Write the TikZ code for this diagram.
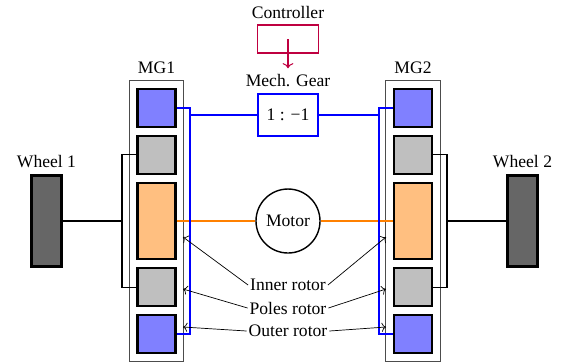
\documentclass[tikz,border=0pt]{standalone}
\usepackage{fontspec}
\setmainfont{Liberation Serif}
\usetikzlibrary{positioning, fit, arrows.meta}
\tikzset{
  rotor/.style={draw, very thick, minimum width=0.76cm, minimum height=0.76cm, inner sep=0pt},
  wheel/.style={draw, very thick, fill=black!60, minimum width=0.6cm, minimum height=1.82cm},
  housing/.style={draw=black!70, semithick, inner sep=0.14cm},
  bline/.style={blue, line width=1pt},
  oline/.style={orange, line width=1pt},
  shaft/.style={line width=1pt},
  pointer/.style={->, thin},
}

\begin{document}
\begin{tikzpicture}[x=0.2mm, y=-0.2mm, node distance=0.14cm]
  \useasboundingbox (0,0) rectangle (564,362);

  % MG1
  \node[rotor, fill=orange!50, minimum height=1.52cm] (s1) at (156.5,221) {};
  \node[rotor, fill=black!25, above=of s1] (p1a) {};
  \node[rotor, fill=blue!50, above=of p1a] (r1a) {};
  \node[rotor, fill=black!25, below=of s1] (p1b) {};
  \node[rotor, fill=blue!50, below=of p1b] (r1b) {};
  \node[housing, fit=(r1a)(r1b)] (mg1) {};
  \node[above=0pt of mg1] (mg1lbl) {MG1};

  % MG2
  \node[rotor, fill=orange!50, minimum height=1.52cm] (s2) at (413,221) {};
  \node[rotor, fill=black!25, above=of s2] (p2a) {};
  \node[rotor, fill=blue!50, above=of p2a] (r2a) {};
  \node[rotor, fill=black!25, below=of s2] (p2b) {};
  \node[rotor, fill=blue!50, below=of p2b] (r2b) {};
  \node[housing, fit=(r2a)(r2b)] (mg2) {};
  \node[above=0pt of mg2] (mg2lbl) {MG2};

  % wheels
  \node[wheel] (w1) at (46.5,221) {};
  \node[above=0pt of w1] (w1lbl) {Wheel 1};
  \node[wheel] (w2) at (522.5,221) {};
  \node[above=0pt of w2] (w2lbl) {Wheel 2};

  % gear and controller
  \node[draw=blue, line width=1pt, minimum width=1.2cm, minimum height=0.84cm] (gear) at (288,115) {1 : −1};
  \node[above=0pt of gear] (gearlbl) {Mech. Gear};
  \node[draw=purple, semithick, minimum width=1.22cm, minimum height=0.56cm] (ctrl) at (288,39) {};
  \node[above=0pt of ctrl] (ctrllbl) {Controller};
  \draw[purple, semithick, ->] (ctrl.center) -- (gearlbl.north);

  % motor
  \node[draw, thick, circle, minimum size=1.28cm, inner sep=0pt] (motor) at (288,221) {Motor};
  \draw[oline] (s1) -- (motor) -- (s2);

  % poles rotors to wheels
  \coordinate (j1) at (122,221);
  \coordinate (j2) at (447,221);
  \draw[semithick] (p1a.west) -| (j1) |- (p1b.west);
  \draw[semithick] (p2a.east) -| (j2) |- (p2b.east);
  \draw[shaft] (w1) -- (j1);
  \draw[shaft] (w2) -- (j2);

  % outer rotors through the gear
  \coordinate (t1) at (190,115);
  \coordinate (t2) at (379,115);
  \draw[bline] (r1a.east) -| (t1) |- (r1b.east);
  \draw[bline] (r2a.west) -| (t2) |- (r2b.west);
  \draw[bline] (t1) -- (gear);
  \draw[bline] (gear) -- (t2);

  % labels
  \node[inner sep=1pt] (inner) at (288,285) {Inner rotor};
  \node[inner sep=1pt] (poles) at (288,308) {Poles rotor};
  \node[inner sep=1pt] (outer) at (288,331) {Outer rotor};
  \coordinate (i1) at (183,237);
  \coordinate (i2) at (386,237);
  \coordinate (q1) at (183,289);
  \coordinate (q2) at (386,289);
  \coordinate (u1) at (183,327);
  \coordinate (u2) at (386,327);
  \draw[pointer] (inner.west) -- (i1);
  \draw[pointer] (inner.east) -- (i2);
  \draw[pointer] (poles.west) -- (q1);
  \draw[pointer] (poles.east) -- (q2);
  \draw[pointer] (outer.west) -- (u1);
  \draw[pointer] (outer.east) -- (u2);
\end{tikzpicture}
\end{document}
